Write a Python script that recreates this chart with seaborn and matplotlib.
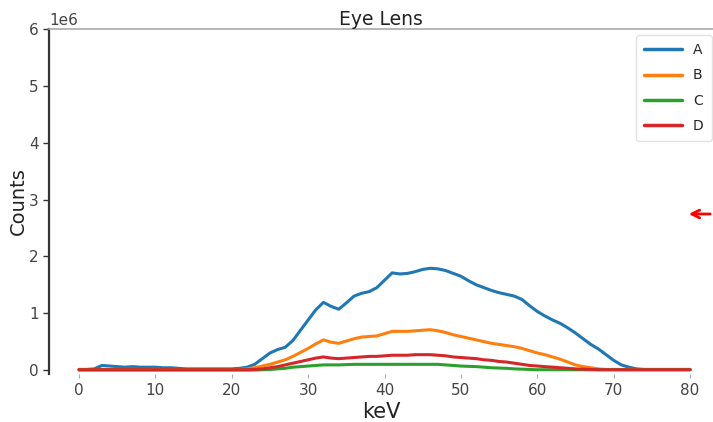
import numpy as np
import pandas as pd
import matplotlib
matplotlib.use("Agg")
import matplotlib.pyplot as plt
import seaborn as sns

# ---- data (counts in units of 1e6, sampled every 1 keV) ----
kev = list(range(0, 81))

series_names = ["A", "B", "C", "D"]

a_vals = [0.01, 0.01, 0.02, 0.08, 0.07, 0.06, 0.05, 0.06, 0.05, 0.05,
          0.05, 0.04, 0.04, 0.03, 0.02, 0.02, 0.02, 0.02, 0.02, 0.02,
          0.02, 0.03, 0.05, 0.10, 0.20, 0.30, 0.36, 0.40, 0.52, 0.70,
          0.88, 1.06, 1.19, 1.12, 1.07, 1.18, 1.30, 1.35, 1.38, 1.45,
          1.58, 1.71, 1.69, 1.70, 1.73, 1.77, 1.79, 1.78, 1.75, 1.70,
          1.65, 1.57, 1.50, 1.45, 1.40, 1.36, 1.33, 1.30, 1.24, 1.13,
          1.03, 0.95, 0.88, 0.82, 0.74, 0.65, 0.55, 0.45, 0.37, 0.27,
          0.17, 0.09, 0.05, 0.02, 0.01, 0.01, 0.01, 0.01, 0.01, 0.01,
          0.01]

b_vals = [0.01] * 22 + [
          0.02, 0.04, 0.07, 0.10, 0.14, 0.18, 0.24, 0.31,
          0.38, 0.46, 0.53, 0.49, 0.47, 0.51, 0.55, 0.58, 0.59, 0.60,
          0.64, 0.68, 0.68, 0.68, 0.69, 0.70, 0.71, 0.69, 0.66, 0.62,
          0.59, 0.56, 0.53, 0.50, 0.47, 0.45, 0.43, 0.41, 0.38, 0.34,
          0.30, 0.27, 0.23, 0.19, 0.14, 0.09, 0.06, 0.04, 0.02, 0.01,
          0.01, 0.01, 0.01, 0.01, 0.01, 0.01, 0.01, 0.01, 0.01, 0.01,
          0.01]

c_vals = [0.0] * 24 + [
          0.005, 0.01, 0.02, 0.03, 0.05, 0.06,
          0.07, 0.08, 0.09, 0.09, 0.09, 0.095, 0.10, 0.10, 0.10, 0.10,
          0.10, 0.10, 0.10, 0.10, 0.10, 0.10, 0.10, 0.10, 0.09, 0.08,
          0.07, 0.065, 0.06, 0.05, 0.04, 0.035, 0.03, 0.02, 0.015, 0.01,
          0.005, 0.005, 0.005, 0.005, 0.005, 0.005, 0.005, 0.005, 0.005, 0.005,
          0.005, 0.005, 0.005, 0.005, 0.005, 0.005, 0.005, 0.005, 0.005, 0.005,
          0.005]

d_vals = [0.005] * 23 + [
          0.01, 0.02, 0.04, 0.06, 0.09, 0.12, 0.15,
          0.18, 0.21, 0.23, 0.21, 0.20, 0.21, 0.22, 0.23, 0.24, 0.24,
          0.25, 0.26, 0.26, 0.26, 0.27, 0.27, 0.27, 0.26, 0.25, 0.23,
          0.22, 0.21, 0.20, 0.18, 0.17, 0.15, 0.14, 0.12, 0.10, 0.08,
          0.07, 0.06, 0.05, 0.04, 0.03, 0.02, 0.015, 0.01, 0.005, 0.005,
          0.005, 0.005, 0.005, 0.005, 0.005, 0.005, 0.005, 0.005, 0.005, 0.005,
          0.005]

x_ticks = [0, 10, 20, 30, 40, 50, 60, 70, 80]
y_ticks = [0, 1, 2, 3, 4, 5, 6]

# ---- build long table ----
frames = []
for name, vals in zip(series_names, [a_vals, b_vals, c_vals, d_vals]):
    frames.append(pd.DataFrame({"keV": kev,
                                "Counts": np.array(vals) * 1e6,
                                "series": name}))
df = pd.concat(frames, ignore_index=True)

sns.set_theme(style="ticks")
plt.rcParams["font.family"] = ["DejaVu Sans"]

W, H = 713, 422
AX_L, AX_T, AX_B = 49, 29, 374
fig = plt.figure(figsize=(W / 100, H / 100), dpi=100)
ax = fig.add_axes([AX_L / W, 1 - AX_B / H, (W - AX_L) / W, (AX_B - AX_T) / H])

palette = dict(zip(series_names, sns.color_palette("tab10", 4)))
sns.lineplot(data=df, x="keV", y="Counts", hue="series", palette=palette,
             linewidth=2.2, ax=ax)

ax.set_xlim(-3.93, 83.0)
ax.set_ylim(-0.07e6, 6e6)
ax.set_xticks(x_ticks)
ax.set_yticks([v * 1e6 for v in y_ticks])
ax.ticklabel_format(axis="y", style="sci", scilimits=(6, 6))
ax.yaxis.get_offset_text().set_fontsize(11)
ax.yaxis.get_offset_text().set_color("#444444")

ax.set_xlabel("keV", fontsize=15, color="#222222", labelpad=3)
ax.set_ylabel("Counts", fontsize=14, color="#222222", labelpad=1)
ax.set_title("Eye Lens", fontsize=13.5, color="#222222", pad=3)

ax.tick_params(axis="y", labelsize=11, labelcolor="#444444", length=4,
               width=1, color="#333333")
ax.tick_params(axis="x", labelsize=11, labelcolor="#444444", length=3,
               width=0.8, color="#aaaaaa")

for side in ["bottom", "right"]:
    ax.spines[side].set_visible(False)
ax.spines["left"].set_color("#333333")
ax.spines["left"].set_linewidth(1.6)
ax.spines["top"].set_color("#aaaaaa")
ax.spines["top"].set_linewidth(1.2)

ax_w = W - AX_L
ax_h = AX_B - AX_T
leg = ax.legend(title=None, loc="upper right",
                bbox_to_anchor=((712 - AX_L) / ax_w, (AX_B - 35) / ax_h),
                borderaxespad=0, fontsize=10, handlelength=2.7,
                labelspacing=0.8, frameon=True, borderpad=0.6)
leg.get_frame().set_edgecolor("#dddddd")
for line in leg.get_lines():
    line.set_linewidth(2.5)

# red arrow annotation at the right edge
fig.add_artist(matplotlib.patches.FancyArrowPatch(
    (713 / W, 1 - 214 / H), (686 / W, 1 - 214 / H),
    transform=fig.transFigure, arrowstyle="->", mutation_scale=14,
    color="red", lw=2))

fig.savefig("out.png", dpi=100)
